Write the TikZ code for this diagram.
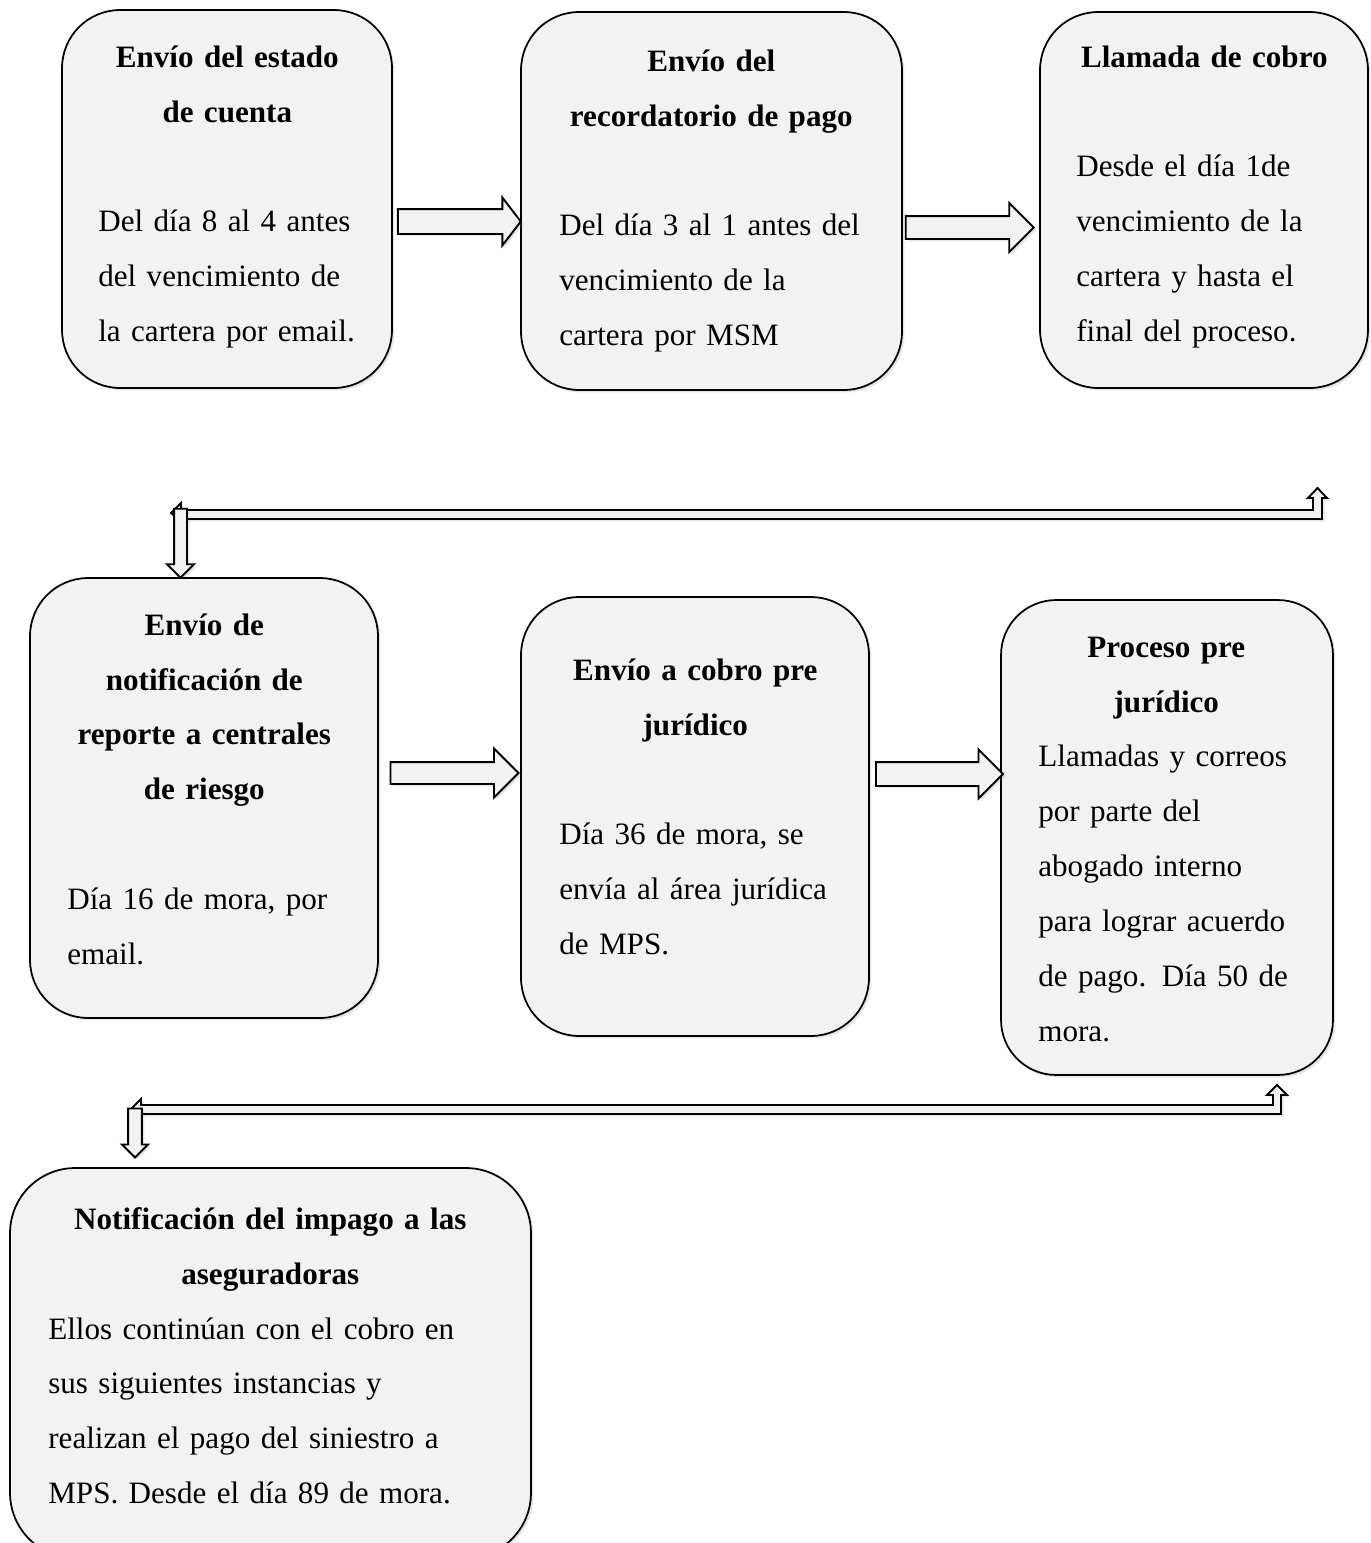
\documentclass[tikz,border=0pt]{standalone}
\usepackage{fontspec}
\setmainfont{Liberation Serif}
\usetikzlibrary{shapes.arrows,shadows}
\definecolor{boxgray}{HTML}{F2F2F2}
\tikzset{stage/.style={draw, line width=1pt, fill=boxgray, rounded corners=1.16cm, drop shadow={shadow xshift=0.05cm, shadow yshift=-0.05cm, opacity=0.2}}}
\tikzset{stagetext/.style={anchor=base west, inner sep=0pt, align=left, font=\fontsize{17.7pt}{31.3pt}\selectfont}}
\tikzset{flowarrow/.style={draw, line width=1.1pt, fill=boxgray, single arrow, single arrow tip angle=90, inner sep=0.22cm, single arrow head extend=0.25cm, minimum height=2.56cm, drop shadow={shadow xshift=0.05cm, shadow yshift=-0.05cm, opacity=0.2}}}
\tikzset{bentbar/.style={draw, line width=1.1pt, fill=boxgray, line join=miter, drop shadow={shadow xshift=0.05cm, shadow yshift=-0.05cm, opacity=0.2}}}
\newcommand{\stagetitle}[1]{{\centering\bfseries #1\par}\hyphenpenalty=10000 \rightskip=0pt plus 1fil minus 4cm\relax}
\newcommand{\stagegap}{\vspace{\baselineskip}}

\begin{document}
\begin{tikzpicture}[x=0.02cm,y=-0.02cm]
\useasboundingbox (0,0) rectangle (1371,1543);
\clip (0,0) rectangle (1371,1543);
% first row
\node[stage, minimum width=6.6cm, minimum height=7.56cm]  (b1) at (227,199)   {};
\node[stage, minimum width=7.62cm, minimum height=7.56cm] (b2) at (711.5,201) {};
\node[stage, minimum width=6.56cm, minimum height=7.52cm] (b3) at (1204,200)  {};
\node[stagetext, text width=5.16cm] (t1) at (98,67)
  {\stagetitle{Envío del estado\\de cuenta}\stagegap Del día 8 al 4 antes\\del vencimiento de\\la cartera por email.};
\node[stagetext, text width=6.08cm] (t2) at (559,71)
  {\stagetitle{Envío del\\recordatorio de pago}\stagegap Del día 3 al 1 antes del\\vencimiento de la\\cartera por MSM};
\node[stagetext, text width=5.12cm] (t3) at (1076,67)
  {\stagetitle{Llamada de cobro}\stagegap Desde el día 1de\\vencimiento de la\\cartera y hasta el\\final del proceso.};
\node[flowarrow, single arrow tip angle=105, inner sep=0.23cm, single arrow head extend=0.23cm, minimum height=2.46cm] (a12) at (454.5,221.5) {};
\node[flowarrow, inner sep=0.21cm, single arrow head extend=0.26cm] (a23) at (964,227.5) {};
% link to second row
\path[bentbar] (171,513) -- (181,503) -- (181,510) -- (1313,510) -- (1313,498) -- (1308,498)
  -- (1317.5,488) -- (1327,498) -- (1322,498) -- (1322,519) -- (178,519) -- cycle;
\node[flowarrow, rotate=-90, inner sep=0.11cm, single arrow head extend=0.14cm, minimum height=1.38cm] (d34) at (180.5,540) {};
% second row
\node[stage, minimum width=6.96cm, minimum height=8.8cm]  (b4) at (204,798)   {};
\node[stage, minimum width=6.96cm, minimum height=8.78cm] (b5) at (695,816.5) {};
\node[stage, rounded corners=1.1cm, minimum width=6.64cm, minimum height=9.5cm] (b6) at (1167,837.5) {};
\node[stagetext, text width=5.48cm] (t4) at (67,635)
  {\stagetitle{Envío de\\notificación de\\reporte a centrales\\de riesgo}\stagegap Día 16 de mora, por\\email.};
\node[stagetext, text width=5.44cm] (t5) at (559,680)
  {\stagetitle{Envío a cobro pre\\jurídico}\stagegap Día 36 de mora, se\\envía al área jurídica\\de MPS.};
\node[stagetext, text width=5.12cm] (t6) at (1038,657)
  {\stagetitle{Proceso pre\\jurídico}Llamadas y correos\\por parte del\\abogado interno\\para lograr acuerdo\\de pago. Día 50 de\\mora.};
\node[flowarrow, inner sep=0.2cm, single arrow head extend=0.27cm] (a45) at (449,773) {};
\node[flowarrow, minimum height=2.54cm] (a56) at (933.5,774) {};
% link to last box
\path[bentbar] (131,1109) -- (141,1099) -- (141,1105) -- (1273,1105) -- (1273,1095) -- (1267,1095)
  -- (1277,1085) -- (1287,1095) -- (1281,1095) -- (1281,1114) -- (138,1114) -- cycle;
\node[flowarrow, rotate=-90, inner sep=0.12cm, single arrow head extend=0.12cm, minimum height=0.98cm] (d67) at (135,1129.5) {};
% last box
\node[stage, rounded corners=1.3cm, minimum width=10.42cm, minimum height=7.8cm] (b7) at (270.5,1363) {};
\node[stagetext, text width=8.88cm] (t7) at (48,1229)
  {\stagetitle{Notificación del impago a las\\aseguradoras}Ellos continúan con el cobro en\\sus siguientes instancias y\\realizan el pago del siniestro a\\MPS. Desde el día 89 de mora.};
\end{tikzpicture}
\end{document}
